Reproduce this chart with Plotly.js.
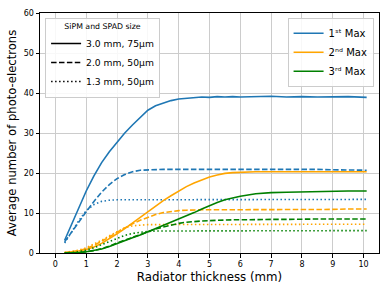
<!DOCTYPE html>
<html>
<head>
<meta charset="utf-8">
<script src="https://cdn.plot.ly/plotly-3.0.1.min.js"></script>
<style>html,body{margin:0;padding:0;background:#fff;}#chart{width:389px;height:292px;}</style>
</head>
<body>
<div id="chart"></div>
<script>
// Radiator thickness (mm)
var thickness = [0.3,0.5,0.75,1,1.25,1.5,1.75,2,2.25,2.5,2.75,3,3.25,3.5,3.75,4,4.25,4.5,4.75,5,5.25,5.5,5.75,6,6.5,7,7.5,8,8.5,9,9.5,10.1];

// 1st Max
var max1_30 = [3.2,6.8,11.4,15.5,19.3,22.6,25.3,27.8,30.0,32.0,33.9,35.7,36.8,37.5,38.1,38.5,38.7,38.9,39.0,38.9,39.1,39.0,39.1,39.0,39.1,39.2,39.0,39.1,39.0,39.0,39.1,38.9];
var max1_20 = [2.8,5.0,7.8,10.3,12.9,15.2,17.1,18.6,19.6,20.3,20.7,20.8,20.9,20.9,20.9,20.9,20.9,20.9,20.9,20.9,20.9,20.9,20.9,20.9,20.9,21.0,20.9,20.9,20.9,20.8,20.8,20.7];
var max1_13 = [2.5,5.0,8.0,10.6,12.1,12.9,13.2,13.3,13.3,13.4,13.4,13.4,13.4,13.4,13.4,13.4,13.4,13.4,13.4,13.4,13.4,13.4,13.4,13.4,13.4,13.4,13.4,13.4,13.4,13.4,13.4,13.4];
// 2nd Max
var max2_30 = [0.1,0.2,0.5,0.9,1.5,2.4,3.5,4.8,6.1,7.5,8.9,10.4,11.8,13.1,14.3,15.5,16.6,17.5,18.3,19.0,19.5,19.9,20.1,20.2,20.3,20.3,20.3,20.3,20.3,20.3,20.3,20.3];
var max2_20 = [0.1,0.2,0.6,1.1,1.9,2.9,4.0,5.2,6.3,7.3,8.2,9.0,9.6,10.1,10.4,10.6,10.7,10.8,10.8,10.8,10.8,10.9,10.9,10.9,10.9,10.9,10.9,10.9,10.9,10.9,11.0,11.0];
var max2_13 = [0.1,0.3,0.7,1.3,2.2,3.2,4.3,5.4,6.3,6.8,7.0,7.1,7.1,7.1,7.1,7.1,7.1,7.1,7.1,7.1,7.1,7.1,7.1,7.1,7.1,7.1,7.1,7.2,7.2,7.2,7.2,7.2];
// 3rd Max
var max3_30 = [0.0,0.0,0.1,0.3,0.6,1.0,1.6,2.4,3.1,3.8,4.5,5.3,6.0,6.8,7.5,8.3,9.2,10.1,11.0,11.9,12.6,13.3,13.8,14.2,14.8,15.1,15.2,15.3,15.4,15.4,15.5,15.5];
var max3_20 = [0.0,0.0,0.1,0.3,0.6,1.1,1.7,2.5,3.2,4.0,4.7,5.4,6.0,6.5,7.0,7.4,7.7,7.9,8.0,8.1,8.2,8.2,8.3,8.3,8.4,8.4,8.4,8.5,8.5,8.5,8.5,8.5];
var max3_13 = [0.0,0.1,0.3,0.7,1.3,2.1,2.9,3.7,4.4,4.9,5.2,5.4,5.5,5.5,5.5,5.5,5.5,5.5,5.5,5.5,5.5,5.5,5.5,5.5,5.6,5.6,5.6,5.6,5.6,5.6,5.6,5.6];

var maxNames = ["1\u02e2\u1d57 Max","2\u207f\u1d48 Max","3\u02b3\u1d48 Max"];
var sizeNames = ["3.0 mm, 75\u03bcm","2.0 mm, 50\u03bcm","1.3 mm, 50\u03bcm"];
var colors = ["#1f77b4","#ffa500","#008000"];
var dashes = ["solid","5.5px,2.4px","1.5px,2.5px"];

var series = [[max1_30,max1_20,max1_13],[max2_30,max2_20,max2_13],[max3_30,max3_20,max3_13]];
var traces = [];
for (var m = 0; m < 3; m++) {
  for (var s = 0; s < 3; s++) {
    traces.push({
      x: thickness, y: series[m][s], type: "scatter", mode: "lines",
      line: {color: colors[m], width: 1.6, dash: dashes[s]},
      name: maxNames[m], legend: "legend2", showlegend: s === 0,
      hoverinfo: "skip"
    });
  }
}
for (var s2 = 0; s2 < 3; s2++) {
  traces.push({
    x: [null], y: [null], type: "scatter", mode: "lines",
    line: {color: "#000", width: 1.4, dash: dashes[s2]},
    name: sizeNames[s2], legend: "legend", showlegend: true
  });
}

var axisCommon = {
  showline: true, linecolor: "#000", linewidth: 1, mirror: true,
  ticks: "outside", ticklen: 3.5, tickcolor: "#000", tickwidth: 1,
  showgrid: true, gridcolor: "#cccccc", gridwidth: 1, zeroline: false,
  tickfont: {family: "DejaVu Sans", size: 8, color: "#000"}
};

var layout = {
  width: 389, height: 292,
  margin: {l: 40, r: 10, t: 13, b: 39},
  paper_bgcolor: "#fff", plot_bgcolor: "#fff",
  showlegend: true,
  xaxis: Object.assign({}, axisCommon, {
    range: [-0.5, 10.5], tickmode: "array",
    tickvals: [0,1,2,3,4,5,6,7,8,9,10],
    title: {text: "Radiator thickness (mm)", font: {family: "DejaVu Sans", size: 11.8, color: "#000"}, standoff: 4}
  }),
  yaxis: Object.assign({}, axisCommon, {
    range: [0, 60], tickmode: "array",
    tickvals: [0,10,20,30,40,50,60],
    title: {text: "Average number of photo-electrons", font: {family: "DejaVu Sans", size: 11.6, color: "#000"}, standoff: 4}
  }),
  legend: {
    x: 0.015, y: 0.98, xanchor: "left", yanchor: "top",
    bgcolor: "rgba(255,255,255,0.85)", bordercolor: "#cccccc", borderwidth: 1,
    font: {family: "DejaVu Sans", size: 9.2, color: "#000"},
    title: {text: "SiPM and SPAD size", side: "top center", font: {family: "DejaVu Sans", size: 7.8, color: "#000"}},
    tracegroupgap: 0, itemwidth: 30
  },
  legend2: {
    x: 0.984, y: 0.98, xanchor: "right", yanchor: "top",
    bgcolor: "rgba(255,255,255,0.85)", bordercolor: "#cccccc", borderwidth: 1,
    font: {family: "DejaVu Sans", size: 10, color: "#000"},
    tracegroupgap: 0, itemwidth: 30
  }
};

Plotly.newPlot("chart", traces, layout, {displayModeBar: false, staticPlot: true});
</script>
</body>
</html>
